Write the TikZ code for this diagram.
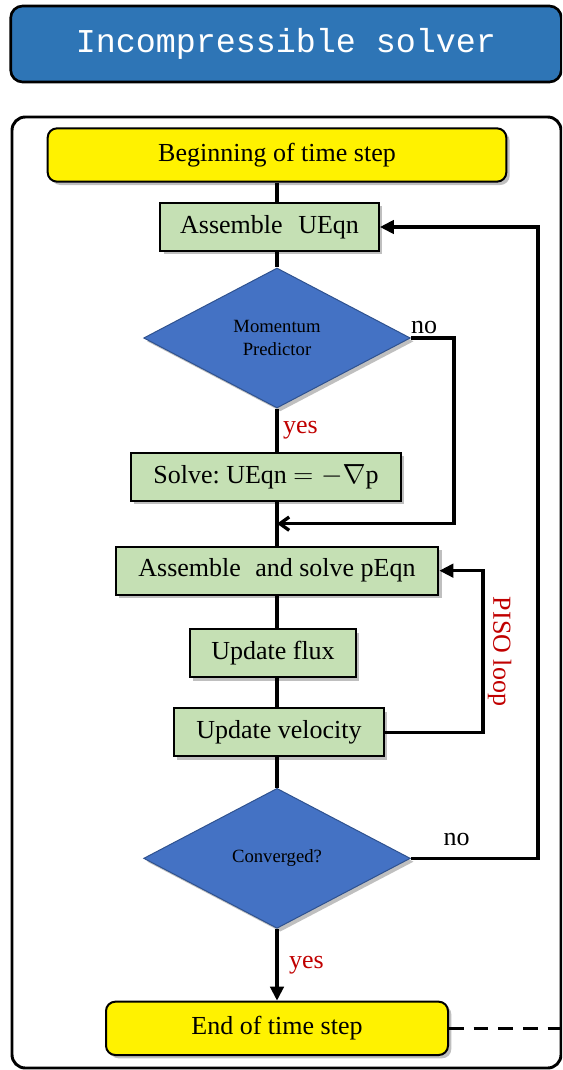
\documentclass[tikz,border=0pt]{standalone}
\usepackage{fontspec}
\setmainfont{Liberation Serif}
\newfontfamily\hdrfont{Liberation Mono}
\usetikzlibrary{arrows.meta,positioning,shapes.geometric,shadows,calc}

\definecolor{hdrblue}{RGB}{46,117,182}
\definecolor{boxgreen}{RGB}{197,224,180}
\definecolor{decblue}{RGB}{68,114,196}
\definecolor{decedge}{RGB}{47,82,143}
\definecolor{lblred}{RGB}{192,0,0}

\begin{document}
\begin{tikzpicture}[
  x=0.75pt, y=-0.75pt,
  boxshadow/.style={drop shadow={shadow xshift=2.5pt, shadow yshift=-2.5pt,
    opacity=0.25, fill=black}},
  stepbox/.style={on grid, draw, line width=1.5pt, fill=boxgreen, boxshadow,
    minimum height=36pt, inner xsep=4pt, text centered,
    font=\fontsize{19.5}{23}\selectfont},
  endbox/.style={on grid, draw, line width=1.5pt, fill=yellow, boxshadow,
    rounded corners=7pt, minimum height=40pt, text centered,
    font=\fontsize{19.5}{23}\selectfont},
  decide/.style={on grid, diamond, draw=decedge, line width=0.75pt, fill=decblue,
    boxshadow, minimum width=200pt, minimum height=105pt, inner sep=0pt,
    align=center, font=\fontsize{14}{17}\selectfont},
  lbl/.style={font=\fontsize{19.5}{23}\selectfont},
  yeslbl/.style={lbl, text=lblred},
  conn/.style={line width=2.5pt},
  arr/.style={conn, -{Triangle[length=10.5pt, width=10pt]}},
  mergearr/.style={conn, -{Straight Barb[length=7pt, width=10pt]}}
]
  \path[use as bounding box] (0,0) rectangle (562,1070);
  \clip (0,0) rectangle (562,1070);

  % header and frame
  \node[draw, line width=2pt, fill=hdrblue, rounded corners=9pt,
    minimum width=413pt, minimum height=57pt, text=white,
    font=\hdrfont\fontsize{25}{30}\selectfont] (title) at (286,44)
    {Incompressible solver};
  \draw[line width=2.2pt, rounded corners=10pt] (12,117) rectangle (561,1068);

  % main column (boxes sit slightly off the spine, as drawn)
  \node[endbox, minimum width=344pt] (begin) at (277,155) {Beginning of time step};
  \node[stepbox, minimum width=164pt, below=54pt of begin, xshift=-5.6pt] (ueqn)
    {Assemble\hspace{0.6em}UEqn};
  \node[decide, below=83.25pt of ueqn, xshift=5.6pt] (mom) {Momentum\\Predictor};
  \node[stepbox, minimum width=202.5pt, below=104pt of mom, xshift=-8.25pt] (solve)
    {Solve:\ UEqn $=-\nabla$p};
  \node[stepbox, minimum width=242pt, below=70.5pt of solve, xshift=8.25pt] (peqn)
    {Assemble\hspace{0.55em}and solve pEqn};
  \node[stepbox, minimum width=124.5pt, below=62pt of peqn, xshift=-3pt] (flux) {Update flux};
  \node[stepbox, minimum width=157.5pt, below=59.25pt of flux, xshift=4.5pt] (vel) {Update velocity};
  \node[decide, below=94.5pt of vel, xshift=-1.5pt] (conv) {Converged?};
  \node[endbox, minimum width=256.5pt, below=127.5pt of conv] (endstep) {End of time step};

  \coordinate (merge) at ($(solve.south -| mom)!0.5!(peqn.north)$);

  \draw[conn] (begin) -- (begin |- ueqn.north);
  \draw[conn] (ueqn.south -| mom) -- (mom);
  \draw[conn] (mom) -- node[yeslbl, right] (momyes) {yes} (mom |- solve.north);
  \draw[conn] (solve.south -| mom) -- (peqn);
  \draw[conn] (peqn) -- (peqn |- flux.north);
  \draw[conn] (flux.south -| peqn) -- (peqn |- vel.north);
  \draw[conn] (vel.south -| conv) -- (conv);
  \draw[arr] (conv) -- node[yeslbl, right=4.5pt] (convyes) {yes} (endstep);

  % skip the solve step
  \draw[mergearr] (mom.east) -- ++(43,0) |- (merge);
  \node[lbl, anchor=south west, inner xsep=0pt] (momno) at (mom.east) {no};

  % PISO loop
  \draw[arr] (vel.east) -- ++(98,0) coordinate (pisoturn) |- (peqn.east);
  \node[yeslbl, rotate=-90, anchor=south] (pisolbl)
    at ($(pisoturn)!0.5!(pisoturn |- peqn.east)$) {PISO loop};

  % outer loop
  \draw[arr] (conv.east) -- node[lbl, above=4.5pt, pos=0.36] (convno) {no}
    ++(127,0) |- (ueqn.east);

  \draw[conn, dash pattern=on 11pt off 7.5pt] (endstep.east) -- (endstep.east -| title.east);
\end{tikzpicture}
\end{document}
